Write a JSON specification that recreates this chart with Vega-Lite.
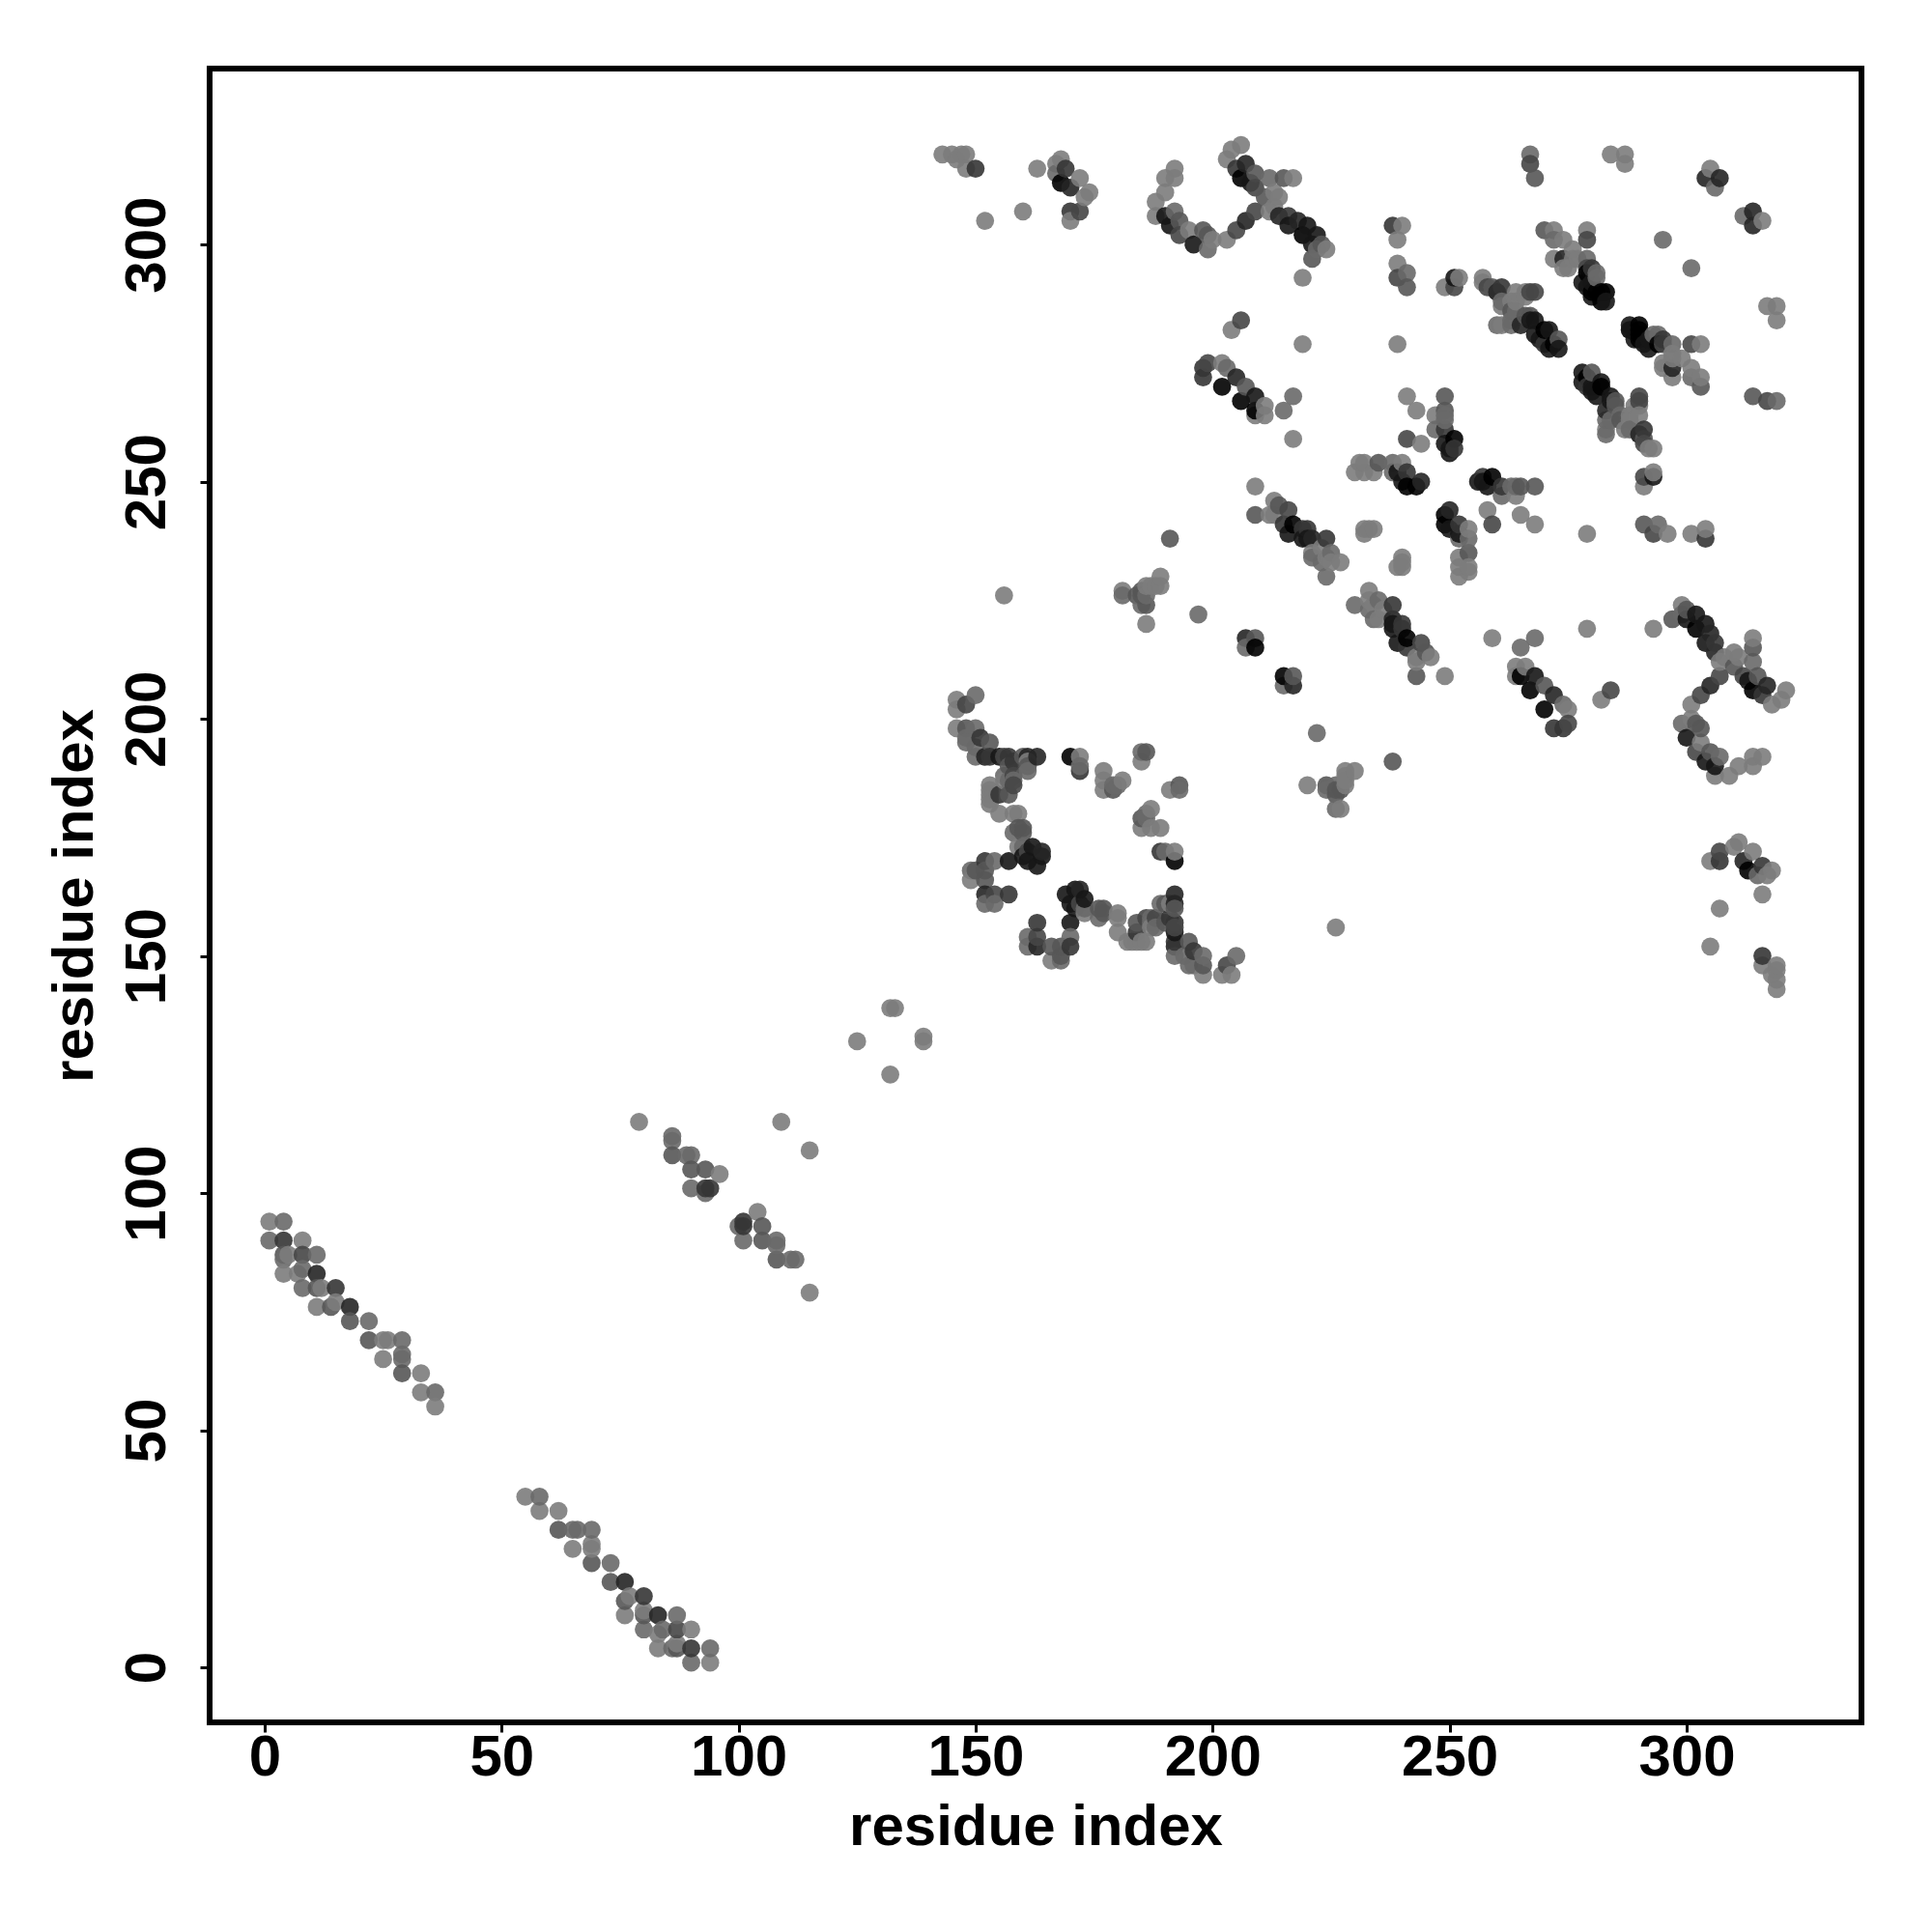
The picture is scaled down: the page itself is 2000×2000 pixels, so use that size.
{"$schema":"https://vega.github.io/schema/vega-lite/v6.json","width":1710,"height":1712,"autosize":"none","padding":{"left":217,"top":71,"right":73,"bottom":217},"background":"white","config":{"view":{"stroke":"black","strokeWidth":6},"axis":{"grid":false,"domain":false,"labelFont":"Liberation Sans","labelFontWeight":"bold","labelFontSize":60,"labelColor":"black","titleFont":"Liberation Sans","titleFontWeight":"bold","titleFontSize":60,"titleColor":"black","tickColor":"black","tickWidth":3,"tickSize":10,"labelOverlap":false,"labelFlush":false}},"datasets":{"contacts":[
{"i":1,"j":94,"v":1},{"i":4,"j":94,"v":2},{"i":1,"j":90,"v":2},{"i":4,"j":90,"v":5},{"i":8,"j":90,"v":1},{"i":4,"j":87,"v":3},{"i":5,"j":87,"v":1},{"i":4,"j":86,"v":2},{"i":8,"j":87,"v":4},{"i":11,"j":87,"v":2},{"i":4,"j":83,"v":1},{"i":7,"j":83,"v":1},{"i":8,"j":84,"v":2},{"i":11,"j":83,"v":6},{"i":8,"j":80,"v":2},{"i":11,"j":80,"v":3},{"i":12,"j":80,"v":1},{"i":15,"j":80,"v":5},{"i":11,"j":76,"v":1},{"i":14,"j":76,"v":3},{"i":15,"j":77,"v":1},{"i":18,"j":76,"v":6},{"i":18,"j":73,"v":3},{"i":22,"j":73,"v":2},{"i":22,"j":69,"v":3},{"i":25,"j":69,"v":1},{"i":26,"j":69,"v":1},{"i":29,"j":69,"v":2},{"i":25,"j":65,"v":1},{"i":29,"j":66,"v":2},{"i":29,"j":65,"v":2},{"i":29,"j":62,"v":3},{"i":33,"j":62,"v":1},{"i":33,"j":58,"v":1},{"i":36,"j":58,"v":2},{"i":36,"j":55,"v":1},
{"i":79,"j":115,"v":1},{"i":86,"j":112,"v":2},{"i":86,"j":111,"v":2},{"i":86,"j":108,"v":3},{"i":89,"j":108,"v":2},{"i":90,"j":108,"v":2},{"i":90,"j":105,"v":3},{"i":93,"j":105,"v":3},{"i":96,"j":104,"v":1},{"i":90,"j":101,"v":2},{"i":93,"j":100,"v":2},{"i":94,"j":101,"v":5},{"i":93,"j":101,"v":5},{"i":109,"j":115,"v":1},{"i":125,"j":132,"v":1},{"i":132,"j":139,"v":1},{"i":133,"j":139,"v":1},
{"i":146,"j":204,"v":1},{"i":146,"j":202,"v":1},{"i":148,"j":203,"v":4},{"i":150,"j":205,"v":2},{"i":146,"j":198,"v":1},{"i":148,"j":198,"v":3},{"i":150,"j":198,"v":2},{"i":148,"j":196,"v":2},{"i":150,"j":194,"v":2},{"i":151,"j":196,"v":5},{"i":153,"j":195,"v":3},{"i":152,"j":192,"v":6},{"i":150,"j":192,"v":2},{"i":153,"j":192,"v":5},{"i":155,"j":192,"v":7},{"i":157,"j":192,"v":5},{"i":156,"j":192,"v":4},{"i":158,"j":191,"v":5},{"i":163,"j":192,"v":6},{"i":161,"j":192,"v":6},{"i":161,"j":191,"v":1},{"i":160,"j":192,"v":3},{"i":161,"j":190,"v":3},{"i":161,"j":189,"v":2},{"i":158,"j":188,"v":4},{"i":156,"j":188,"v":2},{"i":157,"j":190,"v":3},{"i":158,"j":187,"v":2},{"i":157,"j":187,"v":2},{"i":158,"j":186,"v":4},{"i":156,"j":187,"v":1},{"i":153,"j":186,"v":1},{"i":153,"j":185,"v":1},{"i":153,"j":184,"v":1},{"i":153,"j":183,"v":1},{"i":155,"j":184,"v":5},{"i":157,"j":184,"v":3},{"i":153,"j":182,"v":1},{"i":155,"j":180,"v":1},{"i":158,"j":180,"v":1},{"i":159,"j":180,"v":1},{"i":158,"j":176,"v":2},{"i":160,"j":176,"v":3},{"i":160,"j":177,"v":3},{"i":159,"j":177,"v":3},{"i":159,"j":173,"v":1},{"i":160,"j":173,"v":2},{"i":162,"j":173,"v":7},{"i":161,"j":172,"v":4},{"i":160,"j":171,"v":7},{"i":164,"j":171,"v":7},{"i":164,"j":172,"v":6},{"i":163,"j":169,"v":7},{"i":161,"j":170,"v":7},{"i":170,"j":192,"v":8},{"i":172,"j":192,"v":1},{"i":172,"j":189,"v":5},{"i":172,"j":190,"v":2},{"i":177,"j":189,"v":1},{"i":177,"j":187,"v":1},{"i":177,"j":185,"v":1},{"i":179,"j":185,"v":3},{"i":181,"j":187,"v":1},{"i":180,"j":186,"v":2},{"i":179,"j":186,"v":2},{"i":185,"j":191,"v":1},{"i":186,"j":193,"v":3},{"i":185,"j":193,"v":2},
{"i":157,"j":170,"v":7},{"i":154,"j":170,"v":2},{"i":152,"j":170,"v":5},{"i":149,"j":168,"v":2},{"i":149,"j":166,"v":1},{"i":150,"j":168,"v":3},{"i":152,"j":168,"v":3},{"i":152,"j":166,"v":3},{"i":152,"j":163,"v":6},{"i":154,"j":163,"v":4},{"i":157,"j":163,"v":5},{"i":152,"j":161,"v":2},{"i":154,"j":161,"v":2},{"i":148,"j":195,"v":2},
{"i":143,"j":319,"v":1},{"i":145,"j":319,"v":1},{"i":147,"j":319,"v":1},{"i":148,"j":319,"v":1},{"i":146,"j":318,"v":1},{"i":148,"j":316,"v":1},{"i":150,"j":316,"v":5},{"i":152,"j":305,"v":1},{"i":160,"j":307,"v":1},{"i":163,"j":316,"v":1},{"i":168,"j":318,"v":1},{"i":167,"j":317,"v":1},{"i":167,"j":315,"v":2},{"i":169,"j":316,"v":5},{"i":168,"j":313,"v":8},{"i":170,"j":312,"v":6},{"i":172,"j":314,"v":1},{"i":174,"j":311,"v":1},{"i":173,"j":310,"v":1},{"i":170,"j":307,"v":5},{"i":172,"j":307,"v":4},{"i":170,"j":305,"v":1},
{"i":192,"j":316,"v":1},{"i":190,"j":314,"v":1},{"i":192,"j":314,"v":1},{"i":190,"j":311,"v":1},{"i":188,"j":309,"v":1},{"i":188,"j":306,"v":1},{"i":190,"j":306,"v":7},{"i":192,"j":307,"v":2},{"i":193,"j":305,"v":3},{"i":191,"j":304,"v":7},{"i":193,"j":302,"v":4},{"i":195,"j":303,"v":1},{"i":196,"j":300,"v":7},{"i":198,"j":303,"v":3},{"i":199,"j":302,"v":3},{"i":199,"j":299,"v":2},{"i":200,"j":301,"v":1},{"i":203,"j":301,"v":1},{"i":205,"j":303,"v":4},{"i":207,"j":305,"v":6},{"i":209,"j":307,"v":4},{"i":206,"j":284,"v":4},{"i":204,"j":282,"v":1},{"i":219,"j":293,"v":1},{"i":219,"j":279,"v":1},
{"i":203,"j":318,"v":1},{"i":204,"j":320,"v":1},{"i":206,"j":321,"v":1},{"i":205,"j":316,"v":5},{"i":207,"j":317,"v":6},{"i":206,"j":314,"v":8},{"i":208,"j":313,"v":7},{"i":209,"j":315,"v":3},{"i":209,"j":312,"v":4},{"i":212,"j":314,"v":2},{"i":215,"j":314,"v":3},{"i":217,"j":314,"v":1},{"i":211,"j":310,"v":3},{"i":213,"j":311,"v":1},{"i":214,"j":310,"v":1},{"i":213,"j":308,"v":1},{"i":212,"j":307,"v":1},{"i":214,"j":306,"v":6},{"i":216,"j":306,"v":5},{"i":216,"j":304,"v":7},{"i":218,"j":305,"v":6},{"i":220,"j":304,"v":7},{"i":219,"j":302,"v":8},{"i":222,"j":302,"v":7},{"i":221,"j":300,"v":7},{"i":224,"j":299,"v":1},{"i":222,"j":299,"v":2},{"i":221,"j":297,"v":3},{"i":223,"j":300,"v":3},
{"i":238,"j":304,"v":5},{"i":240,"j":304,"v":1},{"i":239,"j":301,"v":1},{"i":239,"j":296,"v":1},{"i":241,"j":294,"v":2},{"i":239,"j":293,"v":4},{"i":241,"j":291,"v":3},{"i":249,"j":291,"v":1},{"i":251,"j":291,"v":4},{"i":251,"j":293,"v":7},{"i":252,"j":293,"v":1},
{"i":257,"j":292,"v":1},{"i":259,"j":291,"v":3},{"i":260,"j":290,"v":1},{"i":261,"j":291,"v":5},{"i":266,"j":290,"v":1},{"i":268,"j":290,"v":4},{"i":261,"j":287,"v":1},{"i":263,"j":288,"v":1},{"i":261,"j":283,"v":1},{"i":263,"j":283,"v":2},{"i":266,"j":289,"v":1},{"i":265,"j":283,"v":6},{"i":267,"j":285,"v":3},{"i":268,"j":284,"v":7},{"i":268,"j":281,"v":7},{"i":271,"j":282,"v":7},{"i":270,"j":280,"v":7},{"i":273,"j":280,"v":3},{"i":272,"j":279,"v":8},{"i":270,"j":279,"v":5},{"i":273,"j":278,"v":7},{"i":271,"j":278,"v":7},{"i":270,"j":282,"v":8},{"i":269,"j":280,"v":7},{"i":267,"j":284,"v":7},{"i":266,"j":285,"v":3},{"i":260,"j":283,"v":2},{"i":264,"j":286,"v":2},{"i":264,"j":288,"v":1},{"i":267,"j":290,"v":4},{"i":264,"j":290,"v":1},{"i":263,"j":286,"v":3},{"i":261,"j":288,"v":2},{"i":260,"j":290,"v":6},{"i":258,"j":291,"v":4},{"i":257,"j":293,"v":1},{"i":263,"j":284,"v":2},{"i":239,"j":279,"v":1},
{"i":267,"j":319,"v":2},{"i":267,"j":317,"v":4},{"i":268,"j":314,"v":3},{"i":284,"j":319,"v":1},{"i":287,"j":319,"v":1},{"i":287,"j":317,"v":1},{"i":305,"j":316,"v":1},{"i":304,"j":314,"v":6},{"i":306,"j":312,"v":2},{"i":307,"j":314,"v":6},{"i":295,"j":301,"v":2},
{"i":270,"j":303,"v":3},{"i":272,"j":303,"v":1},{"i":272,"j":301,"v":2},{"i":274,"j":301,"v":1},{"i":279,"j":303,"v":1},{"i":279,"j":301,"v":4},{"i":272,"j":297,"v":1},{"i":274,"j":297,"v":6},{"i":274,"j":295,"v":1},{"i":276,"j":297,"v":1},{"i":279,"j":297,"v":2},{"i":279,"j":295,"v":4},{"i":281,"j":294,"v":2},{"i":279,"j":294,"v":8},{"i":281,"j":290,"v":8},{"i":282,"j":290,"v":8},{"i":283,"j":290,"v":8},{"i":282,"j":288,"v":8},{"i":280,"j":289,"v":7},{"i":278,"j":292,"v":7},{"i":279,"j":291,"v":7},{"i":283,"j":288,"v":7},{"i":280,"j":290,"v":8},{"i":280,"j":292,"v":7},{"i":281,"j":293,"v":2},{"i":280,"j":295,"v":5},{"i":275,"j":295,"v":1},{"i":277,"j":297,"v":1},{"i":276,"j":299,"v":1},
{"i":217,"j":259,"v":1},{"i":209,"j":249,"v":1},{"i":209,"j":243,"v":3},{"i":213,"j":246,"v":1},{"i":212,"j":243,"v":1},{"i":214,"j":245,"v":3},{"i":216,"j":244,"v":4},{"i":215,"j":241,"v":5},{"i":217,"j":241,"v":8},{"i":219,"j":240,"v":5},{"i":219,"j":238,"v":7},{"i":221,"j":238,"v":6},{"i":224,"j":238,"v":5},{"i":221,"j":235,"v":1},{"i":223,"j":236,"v":1},{"i":225,"j":235,"v":2},{"i":227,"j":233,"v":1},{"i":224,"j":230,"v":2},{"i":223,"j":233,"v":2},{"i":225,"j":233,"v":1},{"i":220,"j":240,"v":5},{"i":220,"j":238,"v":7},{"i":216,"j":239,"v":7},{"i":213,"j":243,"v":1},{"i":224,"j":234,"v":1},{"i":221,"j":234,"v":2},
{"i":207,"j":217,"v":6},{"i":209,"j":217,"v":3},{"i":207,"j":215,"v":2},{"i":209,"j":215,"v":8},
{"i":231,"j":254,"v":1},{"i":230,"j":252,"v":1},{"i":232,"j":252,"v":1},{"i":234,"j":252,"v":1},{"i":235,"j":254,"v":3},{"i":232,"j":254,"v":1},{"i":238,"j":254,"v":2},{"i":240,"j":254,"v":1},{"i":238,"j":252,"v":2},{"i":239,"j":252,"v":7},{"i":241,"j":252,"v":5},{"i":240,"j":250,"v":7},{"i":241,"j":249,"v":8},{"i":244,"j":250,"v":6},{"i":243,"j":249,"v":8},
{"i":241,"j":259,"v":4},{"i":243,"j":265,"v":1},{"i":244,"j":258,"v":1},{"i":247,"j":264,"v":1},{"i":249,"j":265,"v":3},{"i":247,"j":261,"v":2},{"i":249,"j":261,"v":5},{"i":249,"j":258,"v":7},{"i":251,"j":259,"v":8},{"i":251,"j":257,"v":5},{"i":250,"j":256,"v":7},{"i":249,"j":264,"v":2},{"i":249,"j":263,"v":2},{"i":250,"j":257,"v":7},{"i":241,"j":268,"v":1},{"i":249,"j":268,"v":3},
{"i":232,"j":240,"v":1},{"i":234,"j":240,"v":1},{"i":232,"j":239,"v":1},{"i":233,"j":240,"v":1},
{"i":211,"j":264,"v":1},{"i":211,"j":266,"v":1},{"i":209,"j":264,"v":1},{"i":209,"j":265,"v":8},{"i":209,"j":268,"v":7},{"i":206,"j":267,"v":8},{"i":207,"j":270,"v":3},{"i":205,"j":272,"v":6},{"i":202,"j":270,"v":8},{"i":203,"j":274,"v":2},{"i":202,"j":275,"v":1},{"i":199,"j":275,"v":4},{"i":198,"j":274,"v":5},{"i":198,"j":272,"v":5},{"i":215,"j":265,"v":2},{"i":217,"j":268,"v":2},{"i":191,"j":238,"v":3},{"i":197,"j":222,"v":2},{"i":156,"j":226,"v":1},
{"i":181,"j":227,"v":1},{"i":186,"j":220,"v":1},{"i":184,"j":226,"v":3},{"i":186,"j":224,"v":3},{"i":185,"j":227,"v":3},{"i":186,"j":226,"v":2},{"i":188,"j":228,"v":1},{"i":189,"j":228,"v":1},{"i":189,"j":230,"v":1},{"i":181,"j":226,"v":2},{"i":186,"j":228,"v":1},{"i":185,"j":224,"v":2},{"i":187,"j":228,"v":1},{"i":185,"j":226,"v":3}
]},"layer":[{"data":{"name":"contacts"},"mark":{"type":"point","filled":true,"shape":"circle","size":350,"opacity":0.9,"strokeWidth":0},"encoding":{"x":{"field":"i","type":"quantitative","scale":{"domain":[-11.6,336.9],"nice":false,"zero":false},"axis":{"title":"residue index","titlePadding":13,"labelPadding":-3,"values":[0,50,100,150,200,250,300]}},"y":{"field":"j","type":"quantitative","scale":{"domain":[-11.6,337.1],"nice":false,"zero":false},"axis":{"title":"residue index","titlePadding":14,"labelAngle":-90,"labelAlign":"center","labelBaseline":"alphabetic","labelPadding":37,"values":[0,50,100,150,200,250,300]}},"order":{"field":"i","type":"quantitative"},"color":{"field":"v","type":"quantitative","legend":null,"scale":{"domain":[1,8],"range":["#7c7c7c","#000000"]}}}},{"data":{"name":"contacts"},"mark":{"type":"point","filled":true,"shape":"circle","size":350,"opacity":0.9,"strokeWidth":0},"encoding":{"x":{"field":"j","type":"quantitative"},"y":{"field":"i","type":"quantitative"},"order":{"field":"j","type":"quantitative"},"color":{"field":"v","type":"quantitative","legend":null}}}]}
